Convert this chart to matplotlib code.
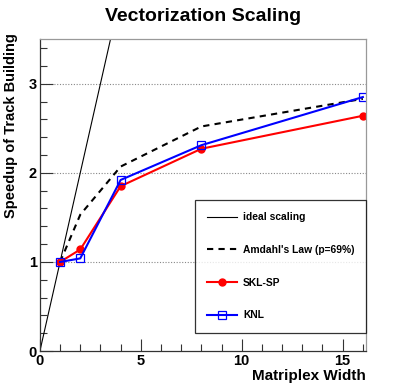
import numpy as np
from matplotlib import pyplot as plt
from matplotlib.ticker import MultipleLocator

plt.rcParams['font.family'] = ['Liberation Sans', 'DejaVu Sans']
plt.rcParams['font.weight'] = 'bold'

widths = [1, 2, 4, 8, 16]
amdahl = [1.0, 1.53, 2.07, 2.52, 2.83]
skl = [1.0, 1.14, 1.85, 2.27, 2.64]
knl = [1.0, 1.04, 1.92, 2.31, 2.85]
ideal_x = [0, 16]
ideal_y = [0, 16]

fig = plt.figure(figsize=(4.07, 3.91), dpi=100)
ax = fig.add_axes([0.098, 0.102, 0.801, 0.798])

ax.plot(ideal_x, ideal_y, color='black', lw=0.8, label='ideal scaling')
ax.plot(widths, amdahl, color='black', lw=1.5, ls=(0, (3, 2.5)),
        label="Amdahl's Law (p=69%)")
ax.plot(widths, skl, color='#ff0000', lw=1.5, marker='o', ms=5,
        label='SKL-SP')
ax.plot(widths, knl, color='#0000ff', lw=1.5, marker='s', ms=5.5,
        mfc='none', mec='#0000ff', mew=0.9, label='KNL')

for yv in [1, 2, 3]:
    ax.axhline(yv, color='#888888', lw=0.8, ls=(0, (1, 1.5)), zorder=0)

ax.set_xlim(0, 16.15)
ax.set_ylim(0, 3.5)
ax.xaxis.set_major_locator(MultipleLocator(5))
ax.xaxis.set_minor_locator(MultipleLocator(1))
ax.yaxis.set_major_locator(MultipleLocator(1))
ax.yaxis.set_minor_locator(MultipleLocator(0.2))
ax.tick_params(which='both', direction='in', top=False, right=False,
               labelsize=10.5, width=0.8, color='#333333')
ax.tick_params(which='major', length=9, pad=2)
ax.tick_params(which='minor', length=5)
for lab in ax.get_xticklabels() + ax.get_yticklabels():
    lab.set_fontweight('bold')

for s in ['top', 'right']:
    ax.spines[s].set_color('#999999')
for s in ['left', 'bottom']:
    ax.spines[s].set_color('#333333')
for s in ax.spines.values():
    s.set_linewidth(0.9)

ax.set_xlabel('Matriplex Width', fontsize=11, fontweight='bold',
              ha='right', x=1.0, labelpad=1)
ax.set_ylabel('Speedup of Track Building', fontsize=10.5, fontweight='bold',
              ha='right', y=1.02, labelpad=8)
fig.text(0.5, 0.958, 'Vectorization Scaling', ha='center', va='center',
         fontsize=14, fontweight='bold')

leg = ax.legend(loc='upper left', bbox_to_anchor=(0.475, 0.058, 0.525, 0.426),
                mode='expand', frameon=True, fancybox=False,
                borderaxespad=0, handlelength=2.9, handletextpad=0.6,
                labelspacing=2.2, borderpad=1.2, prop={'weight': 'bold', 'size': 7.4})
leg.get_frame().set_edgecolor('black')
leg.get_frame().set_linewidth(0.9)

fig.savefig('out.png', dpi=100)
